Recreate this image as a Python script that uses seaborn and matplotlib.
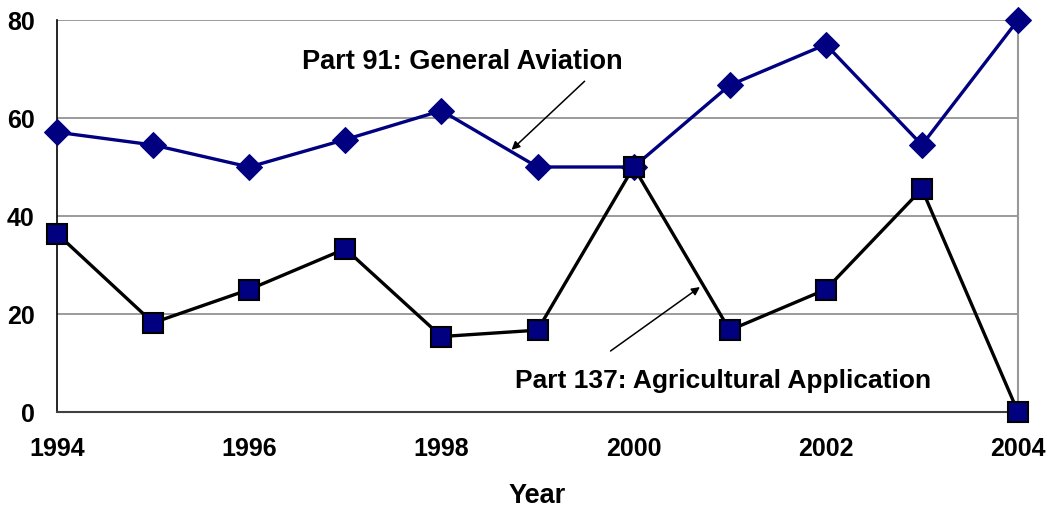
import matplotlib
matplotlib.use("Agg")
import matplotlib.pyplot as plt
import seaborn as sns
import pandas as pd

years = [1994, 1995, 1996, 1997, 1998, 1999, 2000, 2001, 2002, 2003, 2004]
part91 = [57.1, 54.5, 50.0, 55.6, 61.5, 50.0, 50.0, 66.7, 75.0, 54.5, 80.0]
part137 = [36.4, 18.2, 25.0, 33.3, 15.4, 16.7, 50.0, 16.7, 25.0, 45.5, 0.0]
xticks = [1994, 1996, 1998, 2000, 2002, 2004]
yticks = [0, 20, 40, 60, 80]

sns.set_style("white")
plt.rcParams['font.family'] = ['Liberation Sans', 'DejaVu Sans']
plt.rcParams['font.weight'] = 'bold'
plt.rcParams['text.color'] = 'black'
plt.rcParams['xtick.color'] = 'black'
plt.rcParams['ytick.color'] = 'black'
plt.rcParams['axes.labelcolor'] = 'black'

fig = plt.figure(figsize=(10.5, 5.12), dpi=100)
ax = fig.add_axes([57 / 1050, 1 - 412 / 512, (1018 - 57) / 1050, (412 - 20) / 512])

df = pd.DataFrame({'Year': years, 'p91': part91, 'p137': part137})

# horizontal gridlines behind the series
for y in yticks[1:]:
    ax.axhline(y, color='#808080', lw=1.1, zorder=0)

sns.lineplot(data=df, x='Year', y='p91', ax=ax, color='#000080', lw=2.4,
             marker='D', markersize=13, markerfacecolor='#000080',
             markeredgecolor='#000080', clip_on=False, zorder=3)
sns.lineplot(data=df, x='Year', y='p137', ax=ax, color='black', lw=2.4,
             marker='s', markersize=14, markerfacecolor='#000080',
             markeredgecolor='black', markeredgewidth=1.5, clip_on=False, zorder=4)

ax.set_xlim(1994, 2004)
ax.set_ylim(0, 80)
ax.set_xticks(xticks)
ax.set_yticks(yticks)
ax.tick_params(axis='both', labelsize=18, direction='out', length=6, width=1,
               color='#404040', labelcolor='black')
ax.tick_params(axis='x', pad=12)
ax.tick_params(axis='y', pad=10)
for lab in ax.get_xticklabels() + ax.get_yticklabels():
    lab.set_fontweight('bold')

ax.set_xlabel('Year', fontsize=19.5, fontweight='bold', labelpad=16)
ax.set_ylabel('')

ax.spines['top'].set_visible(False)
ax.spines['right'].set_color('#999999')
ax.spines['right'].set_linewidth(1.5)
ax.spines['left'].set_color('black')
ax.spines['left'].set_linewidth(1.2)
ax.spines['bottom'].set_color('#404040')
ax.spines['bottom'].set_linewidth(1.5)

arrow = dict(arrowstyle='-|>', color='black', lw=1.1, shrinkA=0, shrinkB=0,
             mutation_scale=12)
ax.text(1998.22, 71.4, 'Part 91: General Aviation', ha='center', va='center',
        fontsize=19.5, fontweight='bold')
ax.annotate('', xy=(1998.73, 53.5), xytext=(1999.49, 67.5), arrowprops=arrow)
ax.text(2000.93, 6.3, 'Part 137: Agricultural Application', ha='center', va='center',
        fontsize=19, fontweight='bold')
ax.annotate('', xy=(2000.69, 25.5), xytext=(1999.76, 12.45), arrowprops=arrow)

fig.savefig('out.png', dpi=100)
